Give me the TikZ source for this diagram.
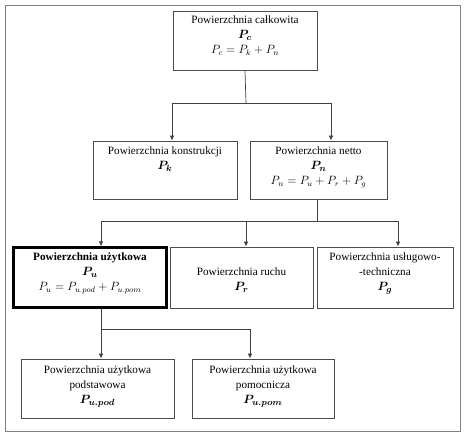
\documentclass[tikz,border=0pt]{standalone}
\usepackage{amsmath}
\usepackage{bm}
\usepackage{fontspec}
\setmainfont{Liberation Serif}
\usetikzlibrary{arrows.meta}
\newcommand{\bigP}[1]{{\fontsize{12.8}{15}\selectfont$\bm{P_{#1}}$}}
\newcommand{\fm}[1]{{\fontsize{12}{15}\selectfont$#1$}}
\begin{document}
\begin{tikzpicture}[x=1pt,y=-1pt,
  >={Latex[length=5pt,width=4.5pt]},
  box/.style={draw=black!70, line width=0.8pt, rectangle, inner sep=0pt},
  mainbox/.style={draw=black, line width=2.2pt, rectangle, inner sep=0pt},
  lab/.style={anchor=north, align=center, inner sep=0pt, font=\fontsize{11.2}{15}\selectfont},
  con/.style={draw=black!75, line width=0.7pt},
  arr/.style={con, ->}]
\useasboundingbox (0,0) rectangle (474,434);
\draw[black!50, line width=1pt] (5,5) rectangle (460,431);
% boxes
\node[box, minimum width=144pt, minimum height=59pt] (pc) at (245,40.5) {};
\node[box, minimum width=144pt, minimum height=58pt] (pk) at (165,170) {};
\node[box, minimum width=137pt, minimum height=58pt] (pn) at (318.5,170) {};
\node[mainbox, minimum width=153pt, minimum height=60pt] (pu) at (90,277.5) {};
\node[box, minimum width=143pt, minimum height=61pt] (pr) at (241.5,277.5) {};
\node[box, minimum width=136pt, minimum height=61pt] (pg) at (385,277.5) {};
\node[box, minimum width=153pt, minimum height=59pt] (pud) at (97.5,388.5) {};
\node[box, minimum width=142pt, minimum height=59pt] (pum) at (263,388.5) {};
% labels
\node[lab] (tc) at ([yshift=-5pt]pc.north) {Powierzchnia całkowita\\ \bigP{c}\\ \fm{P_c = P_k + P_n}};
\node[lab] (tk) at ([yshift=-6pt]pk.north) {Powierzchnia konstrukcji\\ \bigP{k}};
\node[lab] (tn) at ([yshift=-6pt]pn.north) {Powierzchnia netto\\ \bigP{n}\\ \fm{P_n = P_u + P_r + P_g}};
\node[lab] (tu) at ([yshift=-6pt]pu.north) {\textbf{Powierzchnia użytkowa}\\ \bigP{u}\\ \fm{P_u = P_{u.pod} + P_{u.pom}}};
\node[lab] (tr) at ([yshift=-21pt]pr.north) {Powierzchnia ruchu\\ \bigP{r}};
\node[lab] (tg) at ([yshift=-6pt]pg.north) {Powierzchnia usługowo-\\ -techniczna\\ \bigP{g}};
\node[lab] (td) at ([yshift=-7pt]pud.north) {Powierzchnia użytkowa\\ podstawowa\\ \bigP{u.pod}};
\node[lab] (tm) at ([yshift=-7pt]pum.north) {Powierzchnia użytkowa\\ pomocnicza\\ \bigP{u.pom}};
% connectors
\coordinate (j1) at (246,103);
\draw[con] (pc.south) -- (j1);
\draw[arr] (j1) -| ([xshift=7pt]pk.north);
\draw[arr] (j1) -| ([xshift=12.5pt]pn.north);
\coordinate (j2) at (317,221);
\draw[con] ([xshift=-1.5pt]pn.south) -- (j2);
\draw[arr] (j2) -| ([xshift=11pt]pu.north);
\draw[arr] (j2) -| ([xshift=4.5pt]pr.north);
\draw[arr] (j2) -| ([xshift=13pt]pg.north);
\coordinate (j3) at (101,329);
\draw[con] ([xshift=11pt]pu.south) -- (j3);
\draw[arr] (j3) -| ([xshift=3.5pt]pud.north);
\draw[arr] (j3) -| ([xshift=-13pt]pum.north);
\end{tikzpicture}
\end{document}
